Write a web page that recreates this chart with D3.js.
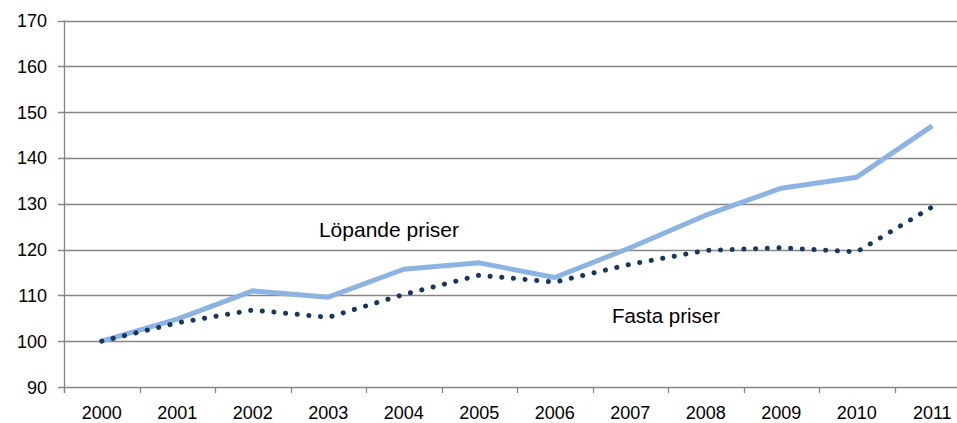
<!DOCTYPE html>
<html>
<head>
<meta charset="utf-8">
<script src="https://cdn.jsdelivr.net/npm/d3@7"></script>
<style>
  body { margin: 0; background: #fff; }
  svg text { font-family: "Liberation Sans", Arial, sans-serif; fill: #000; }
</style>
</head>
<body>
<svg id="chart" width="957" height="423"></svg>
<script>
const years = ['2000', '2001', '2002', '2003', '2004', '2005', '2006', '2007', '2008', '2009', '2010', '2011'];
const lopande = [100, 104.8, 111.0, 109.6, 115.7, 117.1, 113.9, 120.4, 127.5, 133.4, 135.8, 147.0];
const fasta = [100, 104.0, 106.8, 105.2, 110.2, 114.4, 112.9, 116.8, 119.8, 120.4, 119.5, 129.3];
const yTicks = [90, 100, 110, 120, 130, 140, 150, 160, 170];

const svg = d3.select('#chart');
const plotLeft = 64, plotTop = 20.5, plotBottom = 387;

let x = d3.scaleBand().domain(years).range([plotLeft, plotLeft + 12 * 75.5]);
let y = d3.scaleLinear().domain([90, 170]).range([plotBottom, plotTop]);
const cx = (d) => x(d) + x.bandwidth() / 2;

// horizontal gridlines + y labels
yTicks.forEach((t) => {
  svg.append('line')
    .attr('x1', plotLeft - 6).attr('x2', 957)
    .attr('y1', Math.round(y(t)) + 0.5).attr('y2', Math.round(y(t)) + 0.5)
    .attr('stroke', '#868686').attr('stroke-width', 1.3);
  svg.append('text')
    .attr('x', 47).attr('y', y(t) + 6.5)
    .attr('text-anchor', 'end')
    .attr('font-size', 18)
    .text(t);
});

// y axis line
svg.append('line')
  .attr('x1', plotLeft + 0.5).attr('x2', plotLeft + 0.5)
  .attr('y1', plotTop).attr('y2', plotBottom + 6)
  .attr('stroke', '#868686').attr('stroke-width', 1.3);

// x ticks between categories
years.forEach((yr) => {
  let xt = Math.round(x(yr)) + 0.5;
  svg.append('line')
    .attr('x1', xt).attr('x2', xt)
    .attr('y1', plotBottom).attr('y2', plotBottom + 6)
    .attr('stroke', '#868686').attr('stroke-width', 1.3);
  svg.append('text')
    .attr('x', cx(yr)).attr('y', 419)
    .attr('text-anchor', 'middle')
    .attr('font-size', 18)
    .text(yr);
});

let line = d3.line()
  .x((d, i) => cx(years[i]))
  .y((d) => y(d));

svg.append('path')
  .attr('d', line(lopande))
  .attr('fill', 'none')
  .attr('stroke', '#8DB3E2')
  .attr('stroke-width', 5)
  .attr('stroke-linejoin', 'round');

svg.append('path')
  .attr('d', line(fasta))
  .attr('fill', 'none')
  .attr('stroke', '#17375E')
  .attr('stroke-width', 5)
  .attr('stroke-linecap', 'round')
  .attr('stroke-dasharray', '0.1 11.6');

svg.append('text')
  .attr('x', 389).attr('y', 237)
  .attr('text-anchor', 'middle')
  .attr('font-size', 21)
  .text('Löpande priser');

svg.append('text')
  .attr('x', 666).attr('y', 323)
  .attr('text-anchor', 'middle')
  .attr('font-size', 20.5)
  .text('Fasta priser');
</script>
</body>
</html>
